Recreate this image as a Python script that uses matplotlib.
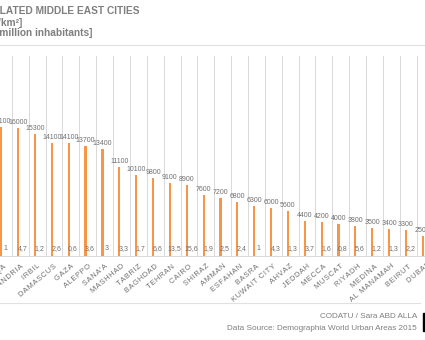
import matplotlib.pyplot as plt
from matplotlib.lines import Line2D
from matplotlib.patches import Rectangle

# Data (cities sorted by density)
cities = ['ZARQA', 'ALEXANDRIA', 'IRBIL', 'DAMASCUS', 'GAZA', 'ALEPPO', "SANA'A",
          'MASHHAD', 'TABRIZ', 'BAGHDAD', 'TEHRAN', 'CAIRO', 'SHIRAZ', 'AMMAN',
          'ESFAHAN', 'BASRA', 'KUWAIT CITY', 'AHVAZ', 'JEDDAH', 'MECCA', 'MUSCAT',
          'RIYADH', 'MEDINA', 'AL MANAMAH', 'BEIRUT', 'DUBAI']
density = [16100, 16000, 15300, 14100, 14100, 13700, 13400, 11100, 10100, 9800,
           9100, 8900, 7600, 7200, 6800, 6300, 6000, 5600, 4400, 4200, 4000,
           3800, 3500, 3400, 3300, 2500]
population = [1, 4.7, 1.2, 2.6, 0.6, 3.6, 3, 3.3, 1.7, 6.6, 13.5, 15.6, 1.9, 2.5,
              2.4, 1, 4.3, 1.3, 3.7, 1.6, 0.8, 5.6, 1.2, 1.3, 2.2, 3.6]

orange = '#F79646'
light_orange = '#F4B183'
grey = '#707070'
font = ['Liberation Sans', 'DejaVu Sans']

fig = plt.figure(figsize=(4.25, 3.4), dpi=100)
ax = fig.add_axes([0, 84 / 340, 1, 200 / 340])

x = list(range(len(cities)))
off = 0.13
w = 0.13
ax.bar([i - off for i in x], density, width=w, color=orange, zorder=3)
ax.bar([i + off for i in x], population, width=w, color=light_orange,
       edgecolor=light_orange, linewidth=0.8, zorder=3)

for i, (d, p) in enumerate(zip(density, population)):
    ax.annotate(str(d), (i - off, d), xytext=(0, 1.5), textcoords='offset points',
                ha='center', va='bottom', fontsize=5, color=grey, family=font)
    ax.annotate(f'{p:g}'.replace('.', ','), (i + off, p), xytext=(0, 3),
                textcoords='offset points', ha='center', va='bottom',
                fontsize=5, color=grey, family=font)

# vertical gridlines between categories
for i in x:
    ax.axvline(i + 0.5, color='#d9d9d9', lw=0.7, zorder=0)

# spaced-out capitals like the original axis labels
spaced = ['\u200a'.join(c) for c in cities]

ax.set_xlim(-3.5 / 17.05, (425 - 3.5) / 17.05)
ax.set_ylim(0, 25000)
ax.set_xticks(x)
ax.set_xticklabels(spaced, rotation=40, ha='right', rotation_mode='anchor',
                   fontsize=5.4, color=grey, family=font)
ax.tick_params(axis='x', length=0, pad=5)
ax.set_yticks([])
for s in ['top', 'left', 'right']:
    ax.spines[s].set_visible(False)
ax.spines['bottom'].set_color('#d9d9d9')
ax.spines['bottom'].set_linewidth(0.7)

# header
title_c = '#7f7f7f'
fig.text(140 / 425, 1 - 11.5 / 340, 'MOST DENSELY POPULATED MIDDLE EAST CITIES',
         ha='right', va='center', fontsize=7.3, fontweight='bold', color=title_c, family=font)
fig.text(22 / 425, 1 - 23.5 / 340, 'DENSITY [inhabitants/km²]',
         ha='right', va='center', fontsize=7.3, fontweight='bold', color=title_c, family=font)
fig.text(92 / 425, 1 - 33 / 340, 'POPULATION [million inhabitants]',
         ha='right', va='center', fontsize=7.3, fontweight='bold', color=title_c, family=font)
fig.add_artist(Line2D([0, 1], [1 - 45 / 340] * 2, color='#e0e0e0', lw=0.8))

# footer
fig.add_artist(Line2D([0, 420 / 425], [1 - 303 / 340] * 2, color='#e0e0e0', lw=0.8))
fig.text(417 / 425, 1 - 316 / 340, 'CODATU / Sara ABD ALLA', ha='right', va='center',
         fontsize=5.9, color=title_c, family=font)
fig.text(417 / 425, 1 - 329 / 340, 'Data Source: Demographia World Urban Areas 2015',
         ha='right', va='center', fontsize=5.9, color=title_c, family=font)
fig.add_artist(Rectangle((423 / 425, 1 - 331 / 340), 3 / 425, 18 / 340,
                         color='black', transform=fig.transFigure))

fig.savefig('out.png', dpi=100)
